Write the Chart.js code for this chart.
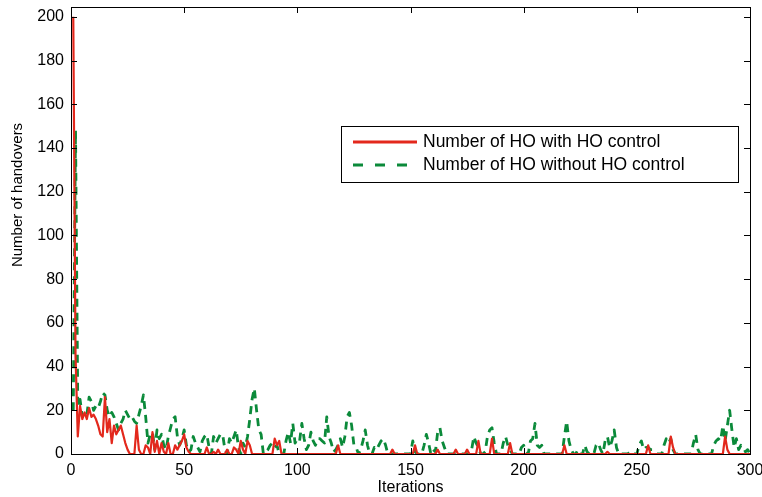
<!DOCTYPE html>
<html>
<head>
<meta charset="utf-8">
<script src="https://cdn.jsdelivr.net/npm/chart.js@4"></script>
<style>
  html, body { margin: 0; padding: 0; background: #fff; }
  #wrap { width: 762px; height: 497px; }
</style>
</head>
<body>
<div id="wrap"><canvas id="hoChart" width="762" height="497"></canvas></div>
<script>
// handovers per iteration (iterations 1..300)
const withControl = [
  200, 45, 8, 22, 16, 19, 16, 21, 17, 18, 16, 13, 9, 8, 26, 10, 16, 5, 13, 9,
  11, 13, 9, 5, 2, 0, 0, 0, 13, 2, 0, 0, 4, 3, 0, 10, 1, 6, 0, 5,
  1, 0, 5, 0, 0, 4, 2, 4, 6, 9, 3, 1, 0, 0, 0, 0, 0, 0, 0, 3,
  0, 0, 1, 0, 2, 0, 0, 0, 2, 0, 0, 3, 2, 0, 6, 2, 0, 6, 4, 0,
  0, 0, 0, 0, 0, 0, 0, 0, 0, 7, 4, 6, 0, 0, 0, 0, 0, 0, 0, 0,
  0, 0, 0, 0, 0, 0, 0, 0, 0, 0, 0, 0, 0, 0, 0, 0, 0, 4, 0, 0,
  0, 0, 0, 0, 0, 0, 0, 0, 0, 0, 0, 0, 0, 0, 0, 0, 0, 0, 0, 0,
  0, 2, 0, 0, 0, 0, 0, 0, 0, 0, 0, 4, 0, 0, 0, 0, 0, 0, 0, 0,
  0, 2, 0, 0, 0, 0, 0, 0, 0, 2, 0, 0, 0, 0, 2, 0, 0, 0, 0, 6,
  0, 0, 0, 0, 0, 7, 0, 0, 0, 0, 0, 0, 0, 5, 0, 0, 0, 0, 0, 0,
  0, 0, 0, 0, 0, 0, 0, 0, 0, 0, 0, 0, 0, 0, 0, 0, 0, 4, 0, 0,
  0, 0, 0, 0, 0, 0, 0, 0, 0, 0, 0, 0, 0, 0, 0, 0, 1, 0, 0, 0,
  0, 0, 0, 0, 0, 0, 0, 0, 0, 0, 0, 0, 0, 0, 4, 0, 0, 0, 0, 0,
  0, 0, 0, 0, 8, 3, 0, 0, 0, 0, 0, 0, 0, 0, 0, 0, 0, 0, 0, 0,
  0, 0, 0, 0, 0, 0, 0, 0, 8, 2, 0, 0, 0, 0, 0, 0, 0, 0, 0, 0
];
const withoutControl = [
  20, 148, 22, 25, 17, 19, 18, 26, 24, 20, 22, 21, 24, 28, 27, 20, 17, 19, 17, 14,
  11, 14, 16, 20, 18, 16, 17, 15, 14, 18, 22, 27, 17, 5, 9, 10, 2, 11, 7, 9,
  4, 2, 8, 12, 16, 17, 8, 4, 7, 11, 4, 1, 2, 8, 5, 3, 1, 6, 8, 9,
  3, 0, 8, 5, 7, 9, 9, 2, 0, 7, 5, 8, 11, 3, 0, 5, 3, 8, 16, 25,
  30, 20, 11, 9, 0, 1, 2, 4, 5, 3, 4, 0, 0, 0, 6, 10, 5, 14, 5, 7,
  6, 14, 7, 2, 4, 10, 6, 4, 7, 7, 6, 5, 17, 8, 5, 1, 2, 4, 7, 3,
  8, 17, 19, 13, 4, 3, 0, 2, 6, 11, 4, 0, 0, 3, 2, 4, 6, 7, 4, 0,
  0, 0, 0, 0, 0, 0, 0, 0, 0, 0, 6, 1, 0, 0, 0, 4, 9, 5, 0, 2,
  1, 10, 12, 6, 3, 0, 0, 0, 0, 0, 0, 0, 0, 0, 0, 0, 2, 8, 5, 3,
  0, 0, 1, 8, 11, 12, 5, 0, 0, 0, 5, 8, 4, 2, 0, 0, 0, 0, 3, 4,
  1, 0, 6, 7, 14, 4, 3, 4, 0, 0, 0, 0, 0, 0, 0, 0, 0, 8, 15, 6,
  2, 0, 0, 2, 0, 0, 4, 1, 0, 0, 0, 4, 5, 2, 0, 6, 8, 3, 6, 11,
  3, 0, 0, 0, 0, 0, 1, 0, 0, 0, 4, 6, 2, 3, 3, 2, 2, 1, 0, 0,
  0, 4, 7, 5, 7, 2, 0, 0, 0, 0, 0, 0, 0, 0, 5, 9, 2, 0, 0, 0,
  0, 0, 0, 4, 6, 7, 6, 13, 6, 13, 20, 11, 3, 7, 2, 4, 3, 1, 2, 0
];
const seriesNames = ['Number of HO with HO control', 'Number of HO without HO control'];
const yTicks = [0, 20, 40, 60, 80, 100, 120, 140, 160, 180, 200];
const xTicks = [0, 50, 100, 150, 200, 250, 300];

const RED = '#e3281c';
const GREEN = '#0b8a3a';
const FONT = '"Liberation Sans", Arial, Helvetica, sans-serif';

function toPoints(arr) {
  return arr.map((v, i) => ({ x: i + 1, y: v }));
}

// box, inward tick marks, axis titles and legend, drawn like the matlab figure
const frame = {
  id: 'frame',
  afterDraw(chart) {
    const ctx = chart.ctx;
    const a = chart.chartArea;
    const xs = chart.scales.x, ys = chart.scales.y;
    ctx.save();
    ctx.strokeStyle = '#000';
    ctx.lineWidth = 1;
    ctx.strokeRect(Math.round(a.left) + 0.5, Math.round(a.top) + 0.5,
                   Math.round(a.right - a.left), Math.round(a.bottom - a.top));
    ctx.beginPath();
    yTicks.forEach(t => {
      const py = Math.round(ys.getPixelForValue(t)) + 0.5;
      ctx.moveTo(a.left, py); ctx.lineTo(a.left + 6, py);
      ctx.moveTo(a.right, py); ctx.lineTo(a.right - 6, py);
    });
    xTicks.forEach(t => {
      const px = Math.round(xs.getPixelForValue(t)) + 0.5;
      ctx.moveTo(px, a.bottom); ctx.lineTo(px, a.bottom - 6);
      ctx.moveTo(px, a.top); ctx.lineTo(px, a.top + 6);
    });
    ctx.stroke();

    // axis titles
    ctx.fillStyle = '#000';
    ctx.font = '16px ' + FONT;
    ctx.textAlign = 'center';
    ctx.textBaseline = 'middle';
    ctx.fillText('Iterations', (a.left + a.right) / 2, 488);
    ctx.font = '15px ' + FONT;
    ctx.translate(18, 195);
    ctx.rotate(-Math.PI / 2);
    ctx.fillText('Number of handovers', 0, 0);
    ctx.setTransform(1, 0, 0, 1, 0, 0);

    // legend
    const lx = 341, ly = 126, lw = 397, lh = 56;
    ctx.fillStyle = '#fff';
    ctx.fillRect(lx, ly, lw, lh);
    ctx.strokeStyle = '#000';
    ctx.lineWidth = 1;
    ctx.strokeRect(lx + 0.5, ly + 0.5, lw, lh);
    chart.data.datasets.forEach((ds, i) => {
      const yy = ly + 16 + i * 23;
      ctx.beginPath();
      ctx.strokeStyle = ds.borderColor;
      ctx.lineWidth = 3;
      ctx.setLineDash(i === 0 ? [] : [10, 12]);
      ctx.moveTo(353, yy); ctx.lineTo(417, yy);
      ctx.stroke();
      ctx.setLineDash([]);
      ctx.fillStyle = '#000';
      ctx.font = '17.5px ' + FONT;
      ctx.textAlign = 'left';
      ctx.textBaseline = 'middle';
      ctx.fillText(ds.label, 423, yy);
    });
    ctx.restore();
  }
};

new Chart(document.getElementById('hoChart'), {
  type: 'line',
  data: {
    datasets: [
      {
        label: seriesNames[0],
        data: toPoints(withControl),
        borderColor: RED,
        borderWidth: 2.2,
        borderJoinStyle: 'round',
        pointRadius: 0,
        tension: 0,
        order: 1
      },
      {
        label: seriesNames[1],
        data: toPoints(withoutControl),
        borderColor: GREEN,
        borderWidth: 2.8,
        borderDash: [8, 6],
        borderJoinStyle: 'round',
        pointRadius: 0,
        tension: 0,
        order: 2
      }
    ]
  },
  options: {
    responsive: false,
    animation: false,
    layout: { padding: { top: 7, right: 12, left: 0, bottom: 0 } },
    plugins: { legend: { display: false }, tooltip: { enabled: false } },
    scales: {
      x: {
        type: 'linear',
        min: 0,
        max: 300,
        grid: { display: false, drawTicks: false },
        border: { display: false },
        afterBuildTicks: s => { s.ticks = xTicks.map(v => ({ value: v })); },
        afterFit: s => { s.height = 43; s.paddingLeft = 0; s.paddingRight = 0; },
        ticks: { color: '#000', padding: 7, maxRotation: 0, font: { family: FONT, size: 16 } }
      },
      y: {
        min: 0,
        max: 204.5,
        grid: { display: false, drawTicks: false },
        border: { display: false },
        afterBuildTicks: s => { s.ticks = yTicks.map(v => ({ value: v })); },
        afterFit: s => { s.width = 71; s.paddingTop = 0; s.paddingBottom = 0; },
        ticks: { color: '#000', padding: 7, font: { family: FONT, size: 16 } }
      }
    }
  },
  plugins: [frame]
});
</script>
</body>
</html>
